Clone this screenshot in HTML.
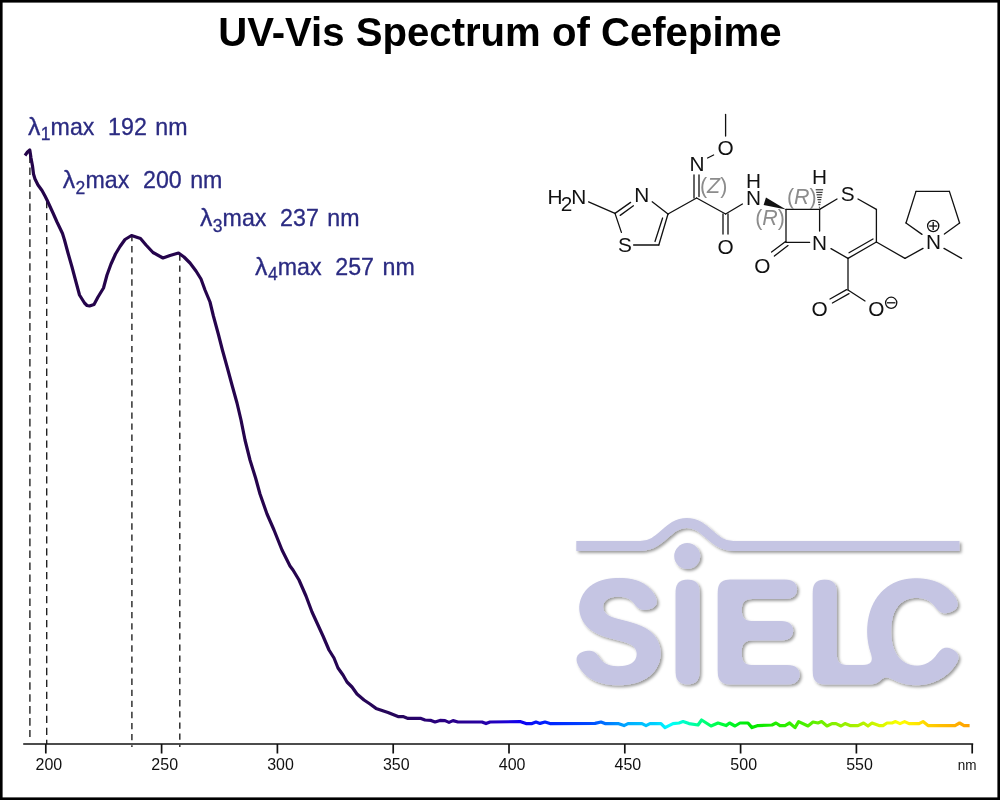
<!DOCTYPE html>
<html><head><meta charset="utf-8"><title>UV-Vis Spectrum of Cefepime</title>
<style>
html,body{margin:0;padding:0;background:#fff;}
body{width:1000px;height:800px;overflow:hidden;position:relative;font-family:"Liberation Sans",sans-serif;}
svg{position:absolute;left:0;top:0;display:block}
svg text{font-family:"Liberation Sans",sans-serif;}
</style></head><body>
<svg width="1000" height="800" viewBox="0 0 1000 800">
<defs>
<linearGradient id="sg" gradientUnits="userSpaceOnUse" x1="0" y1="0" x2="1000" y2="0"><stop offset="0.0000" stop-color="#24044a"/><stop offset="0.3000" stop-color="#26044e"/><stop offset="0.4000" stop-color="#26065c"/><stop offset="0.4400" stop-color="#2a0080"/><stop offset="0.4800" stop-color="#2800a0"/><stop offset="0.5000" stop-color="#2000c8"/><stop offset="0.5200" stop-color="#1000f0"/><stop offset="0.5450" stop-color="#0020ff"/><stop offset="0.5900" stop-color="#0048ff"/><stop offset="0.6100" stop-color="#0080ff"/><stop offset="0.6300" stop-color="#00b0ff"/><stop offset="0.6550" stop-color="#00d0ff"/><stop offset="0.6700" stop-color="#00ffff"/><stop offset="0.6900" stop-color="#00ffb0"/><stop offset="0.7200" stop-color="#00ff40"/><stop offset="0.7500" stop-color="#00e800"/><stop offset="0.8000" stop-color="#40f000"/><stop offset="0.8300" stop-color="#80f000"/><stop offset="0.8600" stop-color="#b0f000"/><stop offset="0.8800" stop-color="#d8f800"/><stop offset="0.9000" stop-color="#ffff00"/><stop offset="0.9200" stop-color="#ffe000"/><stop offset="0.9400" stop-color="#ffc000"/><stop offset="0.9700" stop-color="#ffa000"/><stop offset="1.0000" stop-color="#ffa000"/></linearGradient>
<filter id="sh" x="-5%" y="-5%" width="110%" height="110%"><feDropShadow dx="1.9" dy="1.9" stdDeviation="1.6" flood-color="#000" flood-opacity="0.4"/></filter>
<filter id="rnd" filterUnits="userSpaceOnUse" x="560" y="500" width="420" height="200" color-interpolation-filters="sRGB">
<feMorphology in="SourceAlpha" operator="erode" radius="0 2" result="e"/><feGaussianBlur in="e" stdDeviation="5" result="b"/>
<feComponentTransfer in="b" result="t"><feFuncA type="linear" slope="12.5" intercept="-5.75"/></feComponentTransfer>
<feFlood flood-color="#c5c5e3"/><feComposite in2="t" operator="in"/>
</filter>
</defs>
<rect x="0" y="0" width="1000" height="800" fill="#fff"/>
<rect x="1.3" y="1.3" width="997.4" height="797.4" fill="none" stroke="#000" stroke-width="2.6"/>
<text x="218.2" y="45.7" textLength="563.4" lengthAdjust="spacingAndGlyphs" font-weight="bold" font-size="40.8" fill="#000">UV-Vis Spectrum of Cefepime</text>
<!-- logo -->
<g filter="url(#sh)">
<path d="M576.3 546 H640 C662 546 667 523 686.8 523 C706.6 523 711.6 546 733.6 546 H959.5" fill="none" stroke="#c5c5e3" stroke-width="10"/>
<circle cx="687.2" cy="556.1" r="13" fill="#c5c5e3"/>
<g filter="url(#rnd)" fill="#000" stroke="#000"><text transform="translate(0 680) scale(1 1.07)" x="574.5 669.5 713 808 866.2" y="0" font-size="130" stroke-width="12" stroke-linejoin="round">SIELC</text></g>
</g>
<!-- dashed markers -->
<g stroke="#222" stroke-width="1.4" fill="none"><line x1="29.9" y1="155.5" x2="29.9" y2="737.0" stroke-dasharray="7.6 4.37"/><line x1="46.7" y1="201.0" x2="46.7" y2="744.0" stroke-dasharray="7.3 4.67"/><line x1="131.9" y1="235.0" x2="131.9" y2="747.0" stroke-dasharray="6.3 4.79"/><line x1="179.8" y1="254.4" x2="179.8" y2="747.0" stroke-dasharray="6.3 4.843"/></g>
<!-- axis -->
<g stroke="#111" stroke-width="1.7" fill="none"><line x1="23.2" y1="744" x2="973.2" y2="744"/><line x1="45.8" y1="744" x2="45.8" y2="753.5"/><line x1="161.6" y1="744" x2="161.6" y2="753.5"/><line x1="277.4" y1="744" x2="277.4" y2="753.5"/><line x1="393.2" y1="744" x2="393.2" y2="753.5"/><line x1="509.0" y1="744" x2="509.0" y2="753.5"/><line x1="624.8" y1="744" x2="624.8" y2="753.5"/><line x1="740.6" y1="744" x2="740.6" y2="753.5"/><line x1="856.4" y1="744" x2="856.4" y2="753.5"/><line x1="972.2" y1="744" x2="972.2" y2="753.5"/></g>
<g font-size="16" fill="#111" text-anchor="middle" transform="translate(0 770) scale(1 1.04)"><text x="48.9" y="0">200</text><text x="164.7" y="0">250</text><text x="280.5" y="0">300</text><text x="396.3" y="0">350</text><text x="512.1" y="0">400</text><text x="627.9" y="0">450</text><text x="743.7" y="0">500</text><text x="859.5" y="0">550</text></g>
<text transform="translate(967.1 769.9) scale(1 1.06)" x="0" y="0" font-size="13.5" fill="#111" text-anchor="middle">nm</text>
<!-- spectrum -->
<path d="M25.0 155.5 L27.5 152.0 L29.8 150.0 L31.0 158.0 L32.5 166.0 L33.5 174.0 L35.0 179.0 L38.0 185.0 L42.0 190.5 L45.0 196.0 L47.0 200.0 L53.0 213.0 L57.0 222.0 L62.5 233.5 L64.5 240.0 L68.0 253.0 L72.0 267.0 L76.0 282.0 L79.5 295.0 L84.5 303.0 L87.0 305.5 L89.5 306.0 L94.0 304.5 L98.0 297.0 L103.5 288.0 L107.0 275.0 L111.0 264.0 L115.5 254.0 L120.0 246.5 L125.0 239.5 L131.5 235.5 L140.5 238.5 L146.0 245.0 L153.0 252.5 L163.0 258.0 L170.0 255.5 L178.5 253.0 L184.0 257.0 L190.0 263.0 L196.0 271.0 L201.0 279.0 L205.0 290.0 L210.0 302.0 L213.4 316.0 L218.3 334.0 L222.4 350.0 L227.4 368.0 L232.0 385.0 L237.0 403.0 L241.0 420.0 L245.0 440.0 L250.0 460.0 L255.6 478.0 L260.0 494.0 L267.0 514.0 L274.0 530.0 L282.0 550.0 L290.0 566.0 L293.0 570.0 L299.0 580.0 L306.0 596.0 L312.0 612.0 L323.0 636.0 L329.0 650.0 L334.0 658.0 L338.0 668.0 L343.0 675.0 L347.0 682.0 L352.0 687.0 L357.0 694.0 L364.0 700.0 L370.0 704.0 L376.0 708.4 L388.0 712.4 L398.0 716.6 L403.0 716.6 L408.0 718.4 L421.0 718.4 L425.0 720.0 L431.0 720.4 L435.0 722.0 L440.0 720.4 L445.0 720.6 L449.0 722.4 L453.0 720.6 L458.0 722.0 L482.0 722.0 L486.0 723.6 L490.0 722.0 L520.0 721.6 L526.0 723.6 L532.0 723.6 L536.0 722.0 L540.0 723.4 L545.0 722.0 L550.0 723.6 L595.0 723.4 L601.0 722.0 L605.0 723.6 L618.0 723.6 L624.0 725.6 L628.0 723.6 L642.0 723.6 L646.0 725.6 L650.0 723.6 L661.0 723.6 L665.0 727.6 L673.0 723.6 L679.0 723.0 L683.0 721.6 L689.0 723.6 L698.0 725.0 L701.6 720.0 L711.0 726.0 L718.0 723.0 L726.0 725.6 L729.6 723.0 L735.0 726.0 L740.0 723.0 L748.0 723.0 L752.0 727.6 L758.0 725.6 L772.0 725.0 L776.0 723.0 L780.0 725.6 L785.0 725.6 L789.6 723.0 L795.0 727.6 L798.6 721.6 L808.0 726.0 L813.0 722.0 L818.0 723.0 L821.6 721.6 L827.0 726.0 L832.0 723.6 L836.0 723.6 L841.0 726.0 L845.0 723.6 L850.0 725.6 L858.0 725.6 L863.6 723.0 L868.0 726.0 L872.0 723.0 L879.0 725.6 L883.0 725.6 L887.0 723.0 L892.0 723.0 L895.6 721.6 L900.0 723.6 L904.6 721.6 L909.0 723.6 L919.0 723.6 L923.0 721.6 L928.0 725.6 L955.0 725.6 L959.6 723.0 L964.0 725.6 L969.6 725.6" fill="none" stroke="url(#sg)" stroke-width="3.2" stroke-linejoin="round" stroke-linecap="butt"/>
<!-- peak labels -->
<g font-size="23.2" fill="#2b2b82" stroke="#2b2b82" stroke-width="0.3"><text x="28.1" y="134.7"><tspan x="27.9" font-size="24.8">λ</tspan><tspan x="40.7" dy="5.4" font-size="17.5">1</tspan><tspan x="50.6" dy="-5.4">max</tspan><tspan x="108.1">192</tspan><tspan x="155.3">nm</tspan></text><text x="63.0" y="188.4"><tspan x="62.8" font-size="24.8">λ</tspan><tspan x="75.6" dy="5.4" font-size="17.5">2</tspan><tspan x="85.5" dy="-5.4">max</tspan><tspan x="143.0">200</tspan><tspan x="190.2">nm</tspan></text><text x="200.1" y="226.2"><tspan x="199.9" font-size="24.8">λ</tspan><tspan x="212.7" dy="5.4" font-size="17.5">3</tspan><tspan x="222.6" dy="-5.4">max</tspan><tspan x="280.1">237</tspan><tspan x="327.3">nm</tspan></text><text x="255.3" y="274.9"><tspan x="255.1" font-size="24.8">λ</tspan><tspan x="267.9" dy="5.4" font-size="17.5">4</tspan><tspan x="277.8" dy="-5.4">max</tspan><tspan x="335.3">257</tspan><tspan x="382.5">nm</tspan></text></g>
<!-- molecule -->
<g stroke="#111" stroke-width="1.3" stroke-linecap="round" fill="none"><line x1="588.6" y1="201.8" x2="615.0" y2="213.4"/><line x1="615.0" y1="213.4" x2="630.6" y2="202.4"/><line x1="620.2" y1="215.4" x2="633.4" y2="205.8"/><line x1="615.0" y1="213.4" x2="621.4" y2="232.4"/><line x1="633.6" y1="245.0" x2="658.8" y2="245.0"/><line x1="652.2" y1="201.8" x2="668.0" y2="214.0"/><line x1="668.0" y1="214.0" x2="658.8" y2="245.0"/><line x1="662.6" y1="218.0" x2="655.0" y2="241.5"/><line x1="668.0" y1="214.0" x2="696.6" y2="198.0"/><line x1="694.0" y1="175.0" x2="694.0" y2="198.0"/><line x1="699.0" y1="175.0" x2="699.0" y2="196.6"/><line x1="707.6" y1="158.0" x2="713.6" y2="155.0"/><line x1="725.6" y1="114.4" x2="725.6" y2="136.0"/><line x1="696.6" y1="198.0" x2="725.6" y2="214.0"/><line x1="723.0" y1="214.0" x2="723.0" y2="234.0"/><line x1="728.0" y1="214.0" x2="728.0" y2="234.0"/><line x1="725.6" y1="214.0" x2="742.4" y2="204.0"/><line x1="786.0" y1="209.4" x2="819.6" y2="209.4"/><line x1="786.0" y1="209.4" x2="786.0" y2="242.4"/><line x1="786.0" y1="242.4" x2="809.6" y2="242.4"/><line x1="819.6" y1="209.4" x2="819.6" y2="231.0"/><line x1="785.6" y1="241.6" x2="771.6" y2="252.0"/><line x1="788.0" y1="245.6" x2="774.4" y2="256.0"/><line x1="819.6" y1="209.4" x2="837.0" y2="199.0"/><line x1="858.0" y1="199.0" x2="876.4" y2="209.4"/><line x1="876.4" y1="209.4" x2="876.4" y2="242.0"/><line x1="876.4" y1="242.0" x2="848.0" y2="258.4"/><line x1="873.0" y1="239.0" x2="849.0" y2="252.8"/><line x1="831.0" y1="248.6" x2="848.0" y2="258.4"/><line x1="848.0" y1="258.4" x2="848.0" y2="290.0"/><line x1="846.6" y1="289.6" x2="830.0" y2="299.0"/><line x1="849.0" y1="293.6" x2="832.4" y2="303.0"/><line x1="848.0" y1="290.0" x2="865.0" y2="301.0"/><line x1="876.4" y1="242.0" x2="905.0" y2="258.4"/><line x1="905.0" y1="258.4" x2="923.0" y2="248.4"/><line x1="944.0" y1="248.4" x2="961.6" y2="258.4"/><line x1="922.0" y1="234.4" x2="906.0" y2="223.0"/><line x1="906.0" y1="223.0" x2="916.0" y2="191.4"/><line x1="916.0" y1="191.4" x2="949.4" y2="191.4"/><line x1="949.4" y1="191.4" x2="959.6" y2="223.0"/><line x1="959.6" y1="223.0" x2="944.4" y2="234.0"/></g>
<g stroke="#111" stroke-width="1.0" fill="none"><line x1="818.9" y1="207.2" x2="819.9" y2="207.2"/><line x1="818.4" y1="204.7" x2="820.4" y2="204.7"/><line x1="818.0" y1="202.2" x2="820.8" y2="202.2"/><line x1="817.5" y1="199.7" x2="821.3" y2="199.7"/><line x1="817.1" y1="197.3" x2="821.7" y2="197.3"/><line x1="816.6" y1="194.8" x2="822.2" y2="194.8"/><line x1="816.2" y1="192.3" x2="822.6" y2="192.3"/><line x1="815.7" y1="189.8" x2="823.1" y2="189.8"/></g>
<polygon points="766,197.6 763.6,205 786,209.4" fill="#111"/>
<g font-size="20.8" fill="#111" text-anchor="middle"><text x="547.4 560.7 571.3" y="204.2 211 204.2" text-anchor="start">H2N</text><text x="641.7" y="201.5" >N</text><text x="625.0" y="252.3" >S</text><text x="697.0" y="171.2" >N</text><text x="725.6" y="154.8" >O</text><text x="725.6" y="254.0" >O</text><text x="753.6" y="187.5" >H</text><text x="753.6" y="205.0" >N</text><text x="819.4" y="183.5" >H</text><text x="847.6" y="200.8" >S</text><text x="819.6" y="249.6" >N</text><text x="762.4" y="273.2" >O</text><text x="819.6" y="315.6" >O</text><text x="876.4" y="315.6" >O</text><text x="933.6" y="249.2" >N</text></g>
<g font-size="21.4" fill="#8c8c8c" text-anchor="middle"><text x="713.6" y="192.8">(<tspan font-style="italic">Z</tspan>)</text><text x="770.0" y="224.6">(<tspan font-style="italic">R</tspan>)</text><text x="801.8" y="203.6">(<tspan font-style="italic">R</tspan>)</text></g>
<g stroke="#111" stroke-width="1.3" fill="none">
<circle cx="933.2" cy="226" r="5.6"/><line x1="929.2" y1="226" x2="937.2" y2="226"/><line x1="933.2" y1="222" x2="933.2" y2="230"/>
<circle cx="891.2" cy="302.8" r="5.6"/><line x1="887" y1="302.8" x2="895.4" y2="302.8"/>
</g>
</svg>
</body></html>
